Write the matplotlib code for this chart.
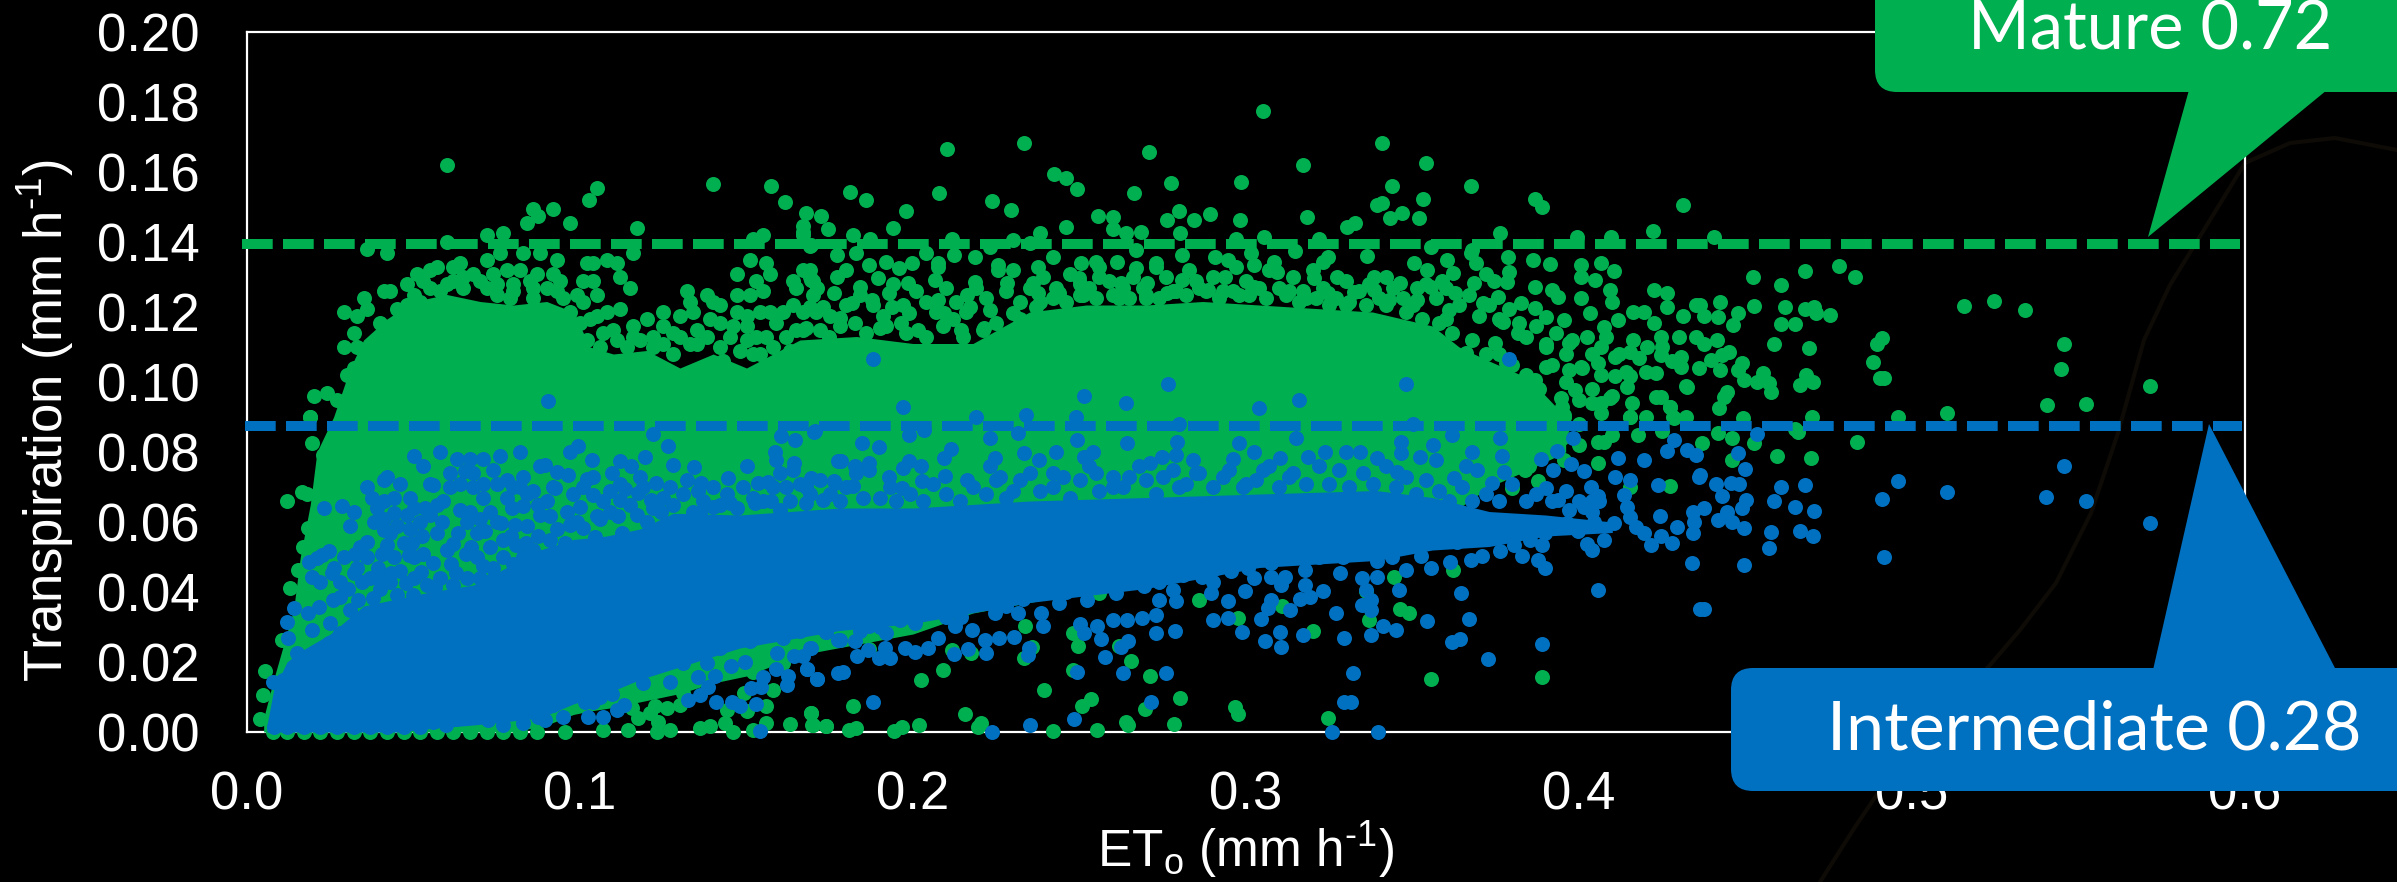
import matplotlib
matplotlib.use("Agg")
import matplotlib.pyplot as plt
from matplotlib.patches import FancyBboxPatch, Polygon

GREEN = "#00B050"
BLUE = "#0070C0"

plt.rcParams["font.family"] = ["Liberation Sans", "DejaVu Sans"]
plt.rcParams["mathtext.fontset"] = "custom"
plt.rcParams["mathtext.rm"] = "Liberation Sans"
plt.rcParams["mathtext.default"] = "regular"

x_ticks = [0.0, 0.1, 0.2, 0.3, 0.4, 0.5, 0.6]
y_ticks = [0.00, 0.02, 0.04, 0.06, 0.08, 0.10, 0.12, 0.14, 0.16, 0.18, 0.20]
mature_threshold = 0.1394
intermediate_threshold = 0.0873
mature_label = "Mature 0.72"
intermediate_label = "Intermediate 0.28"

# The overlapping core of each cloud cannot be read as single dots, so it is
# given as an envelope; readable dots are listed below.
mature_core_et = [.005, .008, .011, .014, .016, .019, .021, .026, .031, .035, .042, .05, .06, .07, .08, .09, .098,
                  .103, .11, .12, .13, .14, .15, .166, .183, .2, .218, .235, .252, .27, .287, .304, .321, .338, .356, .364, .373, .385, .396]
mature_core_top = [.004, .015, .025, .035, .05, .065, .08, .09, .104, .112, .118, .123, .125, .123, .122, .123, .12,
                   .11, .108, .109, .104, .108, .104, .112, .113, .111, .111, .12, .122, .122, .123, .122, .121, .12, .116, .11, .106, .101, .09]
mature_core_bottom = [0, 0, 0, 0, 0, 0, 0, 0, 0, 0, 0, 0, 0, 0, 0, .002, .005,
                      .006, .007, .009, .011, .014, .016, .022, .025, .028, .034, .037, .04, .042, .046, .05, .052, .054, .06, .064, .07, .075, .08]
intermediate_core_et = [.006, .008, .012, .016, .025, .035, .045, .055, .068, .078, .088, .098, .108, .118, .128, .148,
                        .178, .2, .235, .27, .304, .339, .356, .373, .39, .41]
intermediate_core_top = [.002, .012, .02, .023, .028, .036, .038, .04, .042, .047, .052, .055, .056, .058, .0625, .062,
                         .064, .064, .066, .067, .068, .069, .067, .063, .062, .06]
intermediate_core_bottom = [0, 0, 0, 0, 0, 0, 0, .001, .002, .003, .004, .008, .011, .015, .018, .024,
                            .029, .031, .037, .041, .047, .049, .052, .053, .056, .057]

mature_outliers = [(.3051,.1775),(.2101,.1666),(.2332,.1684),(.2709,.1658),(.3409,.1684),(.3170,.1620),(.3540,.1627),(.2423,.1594),
(.2459,.1583),(.2492,.1551),(.2776,.1569),(.2985,.1571),(.2664,.1539),(.3438,.1561),(.3675,.1559),(.1811,.1543),(.1859,.1519),
(.2077,.1541),(.2237,.1517),(.2294,.1492),(.1978,.1488),(.1680,.1483),(.1723,.1474),(.1745,.1437),(.1940,.1440),(.2557,.1475),
(.2601,.1471),(.2601,.1436),(.2639,.1427),(.2685,.1430),(.2459,.1444),(.2764,.1463),(.2799,.1489),(.2844,.1464),(.2892,.1479),
(.2802,.1425),(.2983,.1464),(.3182,.1471),(.3392,.1505),(.3409,.1511),(.3533,.1523),(.3469,.1484),(.3433,.1469),(.3521,.1468),
(.3302,.1442),(.3326,.1453),(.3868,.1522),(.3888,.1501),(.4311,.1506),(.3763,.1425),(.4223,.1432),(.4097,.1413),(.3995,.1413),
(.3787,.1358),(.3863,.1348),(.3914,.1336),(.4007,.1333),(.4066,.1341),(.4104,.1317),(.3364,.1360),(.3504,.1340),(.3544,.1320),
(.3588,.1290),(.3628,.1255),(.3685,.1282),(.3604,.1349),(.3621,.1312),(.3675,.1368),(.3690,.1340),(.3720,.1310),(.3745,.1290),
(.3790,.1315),(.3785,.1285),(.0600,.1620),(.1050,.1555),(.1028,.1520),(.1400,.1567),(.1575,.1560),(.1615,.1515),(.0840,.1455),
(.0770,.1425),(.0875,.1475),(.0860,.1495),(.0920,.1495),(.0970,.1455),(.1170,.1440),(.1670,.1445)]

mature_left_top = [(.036,.138),(.042,.137),(.060,.140),(.072,.142),(.076,.137),(.083,.137),(.088,.137),(.093,.135),(.102,.134),(.104,.134),
(.108,.135),(.111,.134),(.112,.130),(.115,.127),(.101,.129),(.104,.129),(.105,.125),(.099,.125),(.101,.123),(.116,.137),(.043,.126),
(.041,.126),(.048,.128),(.051,.131),(.053,.129),(.055,.132),(.057,.133),(.062,.133),(.064,.134),(.035,.124),(.036,.121),(.029,.120),
(.033,.119),(.032,.114),(.033,.110),(.029,.110),(.032,.104),(.030,.102),(.020,.096),(.024,.097),(.027,.095),(.019,.090),(.062,.129),
(.068,.131),(.072,.135),(.078,.132),(.082,.132),(.087,.131),(.092,.131),(.094,.129),(.074,.131),(.080,.128),(.093,.126),(.086,.127),
(.072,.127),(.065,.127),(.058,.126),(.048,.122),(.052,.123),(.079,.124),(.086,.124),(.075,.125),(.132,.126),(.133,.123),(.138,.125),
(.140,.123),(.142,.122),(.125,.120),(.130,.119),(.134,.120),(.120,.118),(.112,.121),(.108,.120),(.105,.119),(.103,.118),(.116,.116),
(.125,.116),(.128,.114),(.147,.125),(.151,.125),(.155,.126),(.147,.131),(.151,.135),(.156,.134),(.157,.131),(.153,.129),(.165,.127),
(.164,.129),(.167,.132),(.169,.130),(.170,.129),(.167,.142),(.169,.139),(.155,.142),(.152,.141),(.147,.120),(.154,.120),(.157,.120),
(.150,.119),(.139,.118),(.142,.117),(.161,.120),(.164,.122),(.167,.120),(.171,.120),(.159,.117),(.145,.113),(.150,.112),(.156,.113),
(.165,.115),(.154,.108),(.159,.104),(.161,.097),(.167,.099),(.114,.110),(.122,.110),(.135,.111),(.102,.112),(.135,.115),(.148,.109),
(.04,.117),(.045,.121),(.05,.125),(.055,.127),(.06,.128),(.065,.13),(.07,.129),(.075,.128),(.08,.126),(.085,.129),(.09,.127),(.095,.124),
(.097,.12),(.1,.117),(.107,.114),(.11,.115),(.118,.112),(.122,.113),(.13,.113),(.133,.111),(.138,.113),(.142,.11),(.146,.116),(.15,.116),
(.153,.113),(.158,.11),(.162,.113),(.167,.115),(.106,.110),(.111,.112),(.116,.113),(.125,.111),(.128,.108),(.143,.106),(.152,.108),(.163,.109),
(.172,.115),(.178,.116),(.186,.114),(.192,.116),(.198,.114),(.204,.113),(.209,.116),(.215,.113),(.221,.115),(.227,.113),(.232,.118)]

mature_upper_band = [(.1695,.1392),(.1773,.1363),(.1828,.1368),(.1920,.1344),(.1958,.1325),(.1997,.1339),(.2040,.1368),(.2075,.1339),
(.2123,.1363),(.2187,.1358),(.2230,.1387),(.2256,.1334),(.2299,.1320),(.2376,.1330),(.2420,.1358),(.2506,.1339),(.2549,.1344),
(.2614,.1344),(.2670,.1377),(.2670,.1325),(.2730,.1330),(.2807,.1363),(.2906,.1358),(.2945,.1349),(.3015,.1368),(.3023,.1334),
(.3083,.1344),(.3147,.1373),(.3247,.1358),(.3230,.1344),(.1692,.1320),(.1695,.1292),(.1713,.1268),(.1773,.1301),(.1799,.1320),
(.1868,.1334),(.1894,.1296),(.1842,.1272),(.1764,.1253),(.1928,.1253),(.1985,.1282),(.2066,.1292),(.2075,.1330),(.2161,.1249),
(.2187,.1287),(.2256,.1320),(.2282,.1282),(.2359,.1282),(.2376,.1253),(.2437,.1253),(.2497,.1296),(.2558,.1301),(.2626,.1282),
(.2704,.1282),(.2764,.1253),(.2807,.1292),(.2885,.1263),(.2937,.1301),(.3023,.1272),(.3092,.1315),(.3204,.1296),(.3273,.1301),
(.3247,.1253),(.3385,.1301),(.3419,.1301),(.3463,.1284),(.3514,.1268),(.3385,.1263),(.3325,.1257),(.3557,.1272),(.3428,.1234),
(.3514,.1234),(.3609,.1206),(.3713,.1225),(.3756,.1244),(.3764,.1177),(.1690,.1215),(.1730,.1215),(.1782,.1182),(.1816,.1225),
(.1877,.1234),(.1937,.1215),(.1989,.1196),(.2075,.1234),(.2092,.1196),(.2230,.1206),(.2299,.1196),(.1825,.1168),(.1902,.1154),
(.2014,.1149),(.1963,.1168),(.2144,.1149),(.2213,.1154),(.1678,.1154),(.1747,.1130),(.2170,.1215),(.2368,.1215),(.2120,.1180),
(.1820,.1420),(.1871,.1410),(.1670,.1430),(.2118,.1410),(.2382,.1425),(.2299,.1406),(.2351,.1396),(.2971,.1410),(.3054,.1415),
(.3218,.1410),(.3557,.1387),(.3678,.1377),(.2500,.1250),(.2620,.1240),(.2700,.1240),(.2850,.1290),(.2980,.1250),(.3130,.1260),
(.3180,.1240),(.3300,.1220),(.3600,.1180),
(.17,.125),(.175,.119),(.18,.122),(.184,.125),(.188,.122),(.191,.119),(.194,.128),(.197,.122),(.201,.126),(.204,.123),(.207,.12),(.21,.127),
(.213,.123),(.216,.12),(.219,.127),(.222,.124),(.225,.117),(.228,.126),(.232,.123),(.235,.127),(.239,.13),(.243,.127),(.247,.131),(.25,.128),
(.253,.127),(.256,.133),(.259,.129),(.263,.127),(.266,.13),(.269,.127),(.273,.134),(.276,.13),(.279,.126),(.283,.132),(.286,.127),(.29,.13),
(.293,.126),(.297,.133),(.3,.129),(.304,.127),(.307,.132),(.31,.127),(.314,.13),(.317,.126),(.32,.132),(.323,.127),(.327,.124),(.33,.129),
(.334,.126),(.337,.128),(.34,.124),(.344,.127),(.347,.124),(.35,.122),(.354,.128),(.357,.124),(.36,.127),(.364,.122),(.367,.125),(.37,.119),
(.373,.122),(.376,.118),(.379,.121),(.382,.117),(.384,.113),(.387,.116),(.39,.111),(.393,.114),(.396,.108),(.398,.112),(.401,.104),(.404,.108),
(.408,.113),(.412,.108),(.414,.103),(.418,.107),(.42,.103),(.425,.11),(.428,.106),(.432,.099),(.436,.104),(.38,.105),(.384,.102),(.388,.098),
(.392,.105),(.396,.1),(.4,.095),(.404,.098),(.41,.096),(.416,.094),(.42,.09),(.425,.086),(.432,.09),(.38,.096),(.385,.092),(.39,.088),(.395,.093),
(.4,.088),(.41,.085),(.39,.08),(.395,.084),(.385,.083),(.38,.08),(.375,.085),(.37,.09),(.37,.078),(.365,.08),(.375,.075),(.385,.076),
(.238,.123),(.242,.124),(.246,.123),(.251,.125),(.255,.124),(.26,.125),(.265,.124),(.27,.125),(.274,.124),(.278,.126),(.282,.125),(.288,.126),
(.292,.124),(.296,.126),(.301,.125),(.306,.124),(.312,.125),(.316,.123),(.321,.124),(.325,.122),(.331,.123),(.336,.122),(.342,.122),(.348,.12),
(.353,.118),(.358,.117),(.362,.114),(.368,.112),(.372,.108),(.376,.108)]

mature_right = [(.4226,.1263),(.4264,.1253),(.4264,.1215),(.4311,.1189),(.4350,.1220),(.4161,.1201),(.4195,.1201),(.4118,.1177),
(.4092,.1263),(.4100,.1230),(.4032,.1196),(.4006,.1239),(.4049,.1292),(.4006,.1301),(.3919,.1263),(.3937,.1244),(.3868,.1272),
(.3868,.1211),(.3825,.1225),(.3902,.1187),(.3773,.1172),(.4226,.1168),(.4247,.1130),(.4299,.1130),(.4350,.1130),(.4204,.1101),
(.4152,.1087),(.4247,.1077),(.4307,.1072),(.4307,.1044),(.4230,.1025),(.4152,.1016),(.4109,.1016),(.4066,.1020),(.4143,.0985),
(.4230,.0958),(.4247,.0958),(.4325,.0985),(.4273,.0930),(.4282,.0901),(.4152,.0901),(.4092,.0954),(.4066,.0911),(.4040,.0939),
(.3954,.0906),(.3945,.0954),(.3885,.0930),(.3816,.0911),(.3713,.0925),(.3661,.0972),(.3626,.0925),(.3497,.0920),(.3816,.0958),
(.4006,.1044),(.4066,.1101),(.3971,.1111),(.4023,.1130),(.3954,.1177),(.4075,.1158),(.4161,.1120),(.3816,.1139),(.3747,.1111),
(.3661,.1082),(.3902,.1101),(.3902,.1044),(.3868,.1006),(.3971,.1034),(.4057,.1053),(.3989,.0977),(.4109,.1072),(.3782,.1053),
(.3730,.1006),(.3644,.0854),(.3799,.0840),(.4057,.0830),(.4178,.0849),(.4273,.0703),(.3837,.0749),(.3876,.0716),(.4057,.0768),
(.4152,.0701),(.3799,.0697),(.3644,.0711),(.3902,.0801),(.3954,.0778),(.3532,.0735),(.3437,.0768),(.4285,.0897),(.4273,.0930),
(.4152,.0901),(.4066,.0939),(.3954,.0901),(.4075,.0830),(.3713,.0925),(.3644,.0920),(.3816,.0911),(.3780,.0880),(.3950,.0870),
(.3900,.0850),(.4000,.0820),(.3700,.0800),(.3600,.0780),(.3500,.0850),(.3400,.0820),(.3750,.0960),(.3850,.0870)]

mature_far = [(.4406,.1413),(.4524,.1301),(.4607,.1276),(.4679,.1316),(.4782,.1331),(.4830,.1300),(.4422,.1228),(.4527,.1218),(.4618,.1213),
(.4678,.1210),(.4707,.1215),(.4712,.1196),(.4755,.1192),(.4478,.1198),(.4363,.1220),(.4374,.1188),(.4416,.1187),(.4463,.1163),
(.4607,.1167),(.4650,.1167),(.5157,.1216),(.5245,.1231),(.5339,.1207),(.4910,.1127),(.4896,.1110),(.4882,.1058),(.4903,.1012),
(.4916,.1012),(.4586,.1109),(.4690,.1098),(.4415,.1120),(.4376,.1110),(.4450,.1087),(.4430,.1077),(.4396,.1063),(.4423,.1034),
(.4490,.1053),(.4476,.1034),(.4496,.1006),(.4536,.1001),(.4554,.1025),(.4570,.0996),(.4576,.0972),(.4443,.0972),(.4436,.0958),
(.4419,.0927),(.4683,.1020),(.4663,.0991),(.4703,.1001),(.5457,.1108),(.5448,.1038),(.5404,.0934),(.5524,.0937),(.5715,.0990),
(.4958,.0901),(.5105,.0912),(.4700,.0899),(.4491,.0896),(.4650,.0867),(.4659,.0858),(.4416,.0853),(.4836,.0830),(.4459,.0840),
(.4370,.0825),(.4527,.0825),(.4596,.0789),(.4696,.0784),(.4459,.0778)]

mature_lower = [(.2023,.0149),(.2090,.0178),(.1821,.0075),(.1695,.0054),(.1699,.0021),(.1740,.0016),(.1808,.0005),(.1828,.0011),(.1942,.0002),
(.1966,.0013),(.2018,.0019),(.2156,.0051),(.2204,.0027),(.2195,.0014),(.2394,.0119),(.2420,.0003),(.2552,.0006),(.2535,.0095),
(.2508,.0073),(.2639,.0030),(.2647,.0021),(.2697,.0066),(.2801,.0097),(.2783,.0023),(.2713,.0159),(.2656,.0203),(.2480,.0282),
(.2494,.0246),(.2480,.0176),(.2618,.0246),(.2356,.0243),(.2337,.0302),(.2333,.0211),(.2173,.0225),(.2118,.0235),(.1868,.0238),
(.1713,.0278),(.1816,.0292),(.2966,.0071),(.2976,.0052),(.3245,.0040),(.3557,.0151),(.3890,.0156),(.3488,.0340),(.3463,.0351),
(.3368,.0321),(.3359,.0402),(.3445,.0444),(.3621,.0463),(.3201,.0290),(.3109,.0359),(.2976,.0327),(.2859,.0378),(.2566,.0444),
(.2523,.0435),(.2558,.0397),(.0955,.0001),(.107,.0006),(.1145,.0006),(.123,.0001),(.127,.0006),(.136,.0011),(.139,.0016),
(.1435,.0025),(.146,.0001),(.152,.0006),(.1558,.0027),(.1632,.0023),(.1695,.0054),(.1698,.0021),(.174,.0016),(.156,.0073),
(.15,.0059),(.158,.0120),(.1492,.0111),(.152,.0171),(.1355,.0182),(.131,.0111),(.13,.0078),(.126,.0068),(.1225,.0073),(.1235,.0030),
(.1175,.0040),(.113,.0120),(.1155,.0068),(.121,.0054),(.144,.0063),(.155,.0216),(.161,.0197),(.1715,.0282)]

mature_left_edge = [(.0189,.0901),(.0194,.0827),(.0229,.0792),(.0249,.0820),(.0229,.0744),(.0164,.0687),(.0180,.0680),(.0119,.0659),
(.0184,.0582),(.0169,.0530),(.0154,.0463),(.0129,.0411),(.0104,.0263),(.0054,.0175),(.0049,.0106),(.0039,.0037),(.0079,0),
(.012,0),(.017,0),(.022,0),(.027,0),(.032,0),(.037,0),(.042,0),(.047,0),(.052,0),(.057,0),(.062,0),(.067,0),(.072,0),(.077,0),(.082,0),(.087,0)]

intermediate_upper_left = [(.050,.079),(.058,.080),(.053,.076),(.063,.078),(.067,.078),(.071,.078),(.076,.079),(.082,.080),(.074,.075),(.061,.074),
(.0655,.0745),(.068,.074),(.075,.071),(.083,.073),(.080,.070),(.082,.070),(.088,.076),(.055,.071),(.056,.0705),(.061,.070),(.064,.071),
(.068,.070),(.071,.067),(.078,.067),(.036,.070),(.041,.072),(.042,.073),(.046,.071),(.049,.067),(.0375,.067),(.039,.064),(.044,.067),
(.041,.066),(.050,.064),(.0535,.064),(.057,.065),(.059,.066),(.064,.0635),(.067,.063),(.073,.063),(.0795,.064),(.083,.0645),(.0875,.065),
(.0585,.060),(.057,.057),(.044,.0625),(.045,.059),(.049,.058),(.0525,.056),(.047,.054),(.0494,.054),(.038,.060),(.041,.0577),(.043,.057),
(.023,.064),(.0284,.0646),(.032,.063),(.031,.059),(.036,.0544),(.034,.053),(.0324,.051),(.042,.0535),(.0404,.051),(.044,.050),(.0487,.0506),
(.0247,.0516),(.0224,.0506),(.021,.0497),(.0186,.0487),(.0194,.0444),(.0256,.0454),(.032,.0454),(.0344,.043),(.0304,.041),(.0394,.0468),
(.0432,.0454),(.0394,.044),(.0476,.0427),(.0524,.0458),(.0559,.0482),(.0612,.048),(.0627,.0454),(.0709,.0473),(.0736,.0435),(.0564,.0414),
(.0634,.0568),(.0619,.0538),(.0674,.053),(.0659,.051),(.0764,.0597),(.0804,.0592),(.0794,.0559),(.0809,.0535),(.0839,.054),(.0714,.0573),
(.0874,.0559),(.0769,.0501),(.0141,.0354),(.0184,.0339),(.0217,.0358),(.0119,.0313),(.0124,.0268),(.0149,.0225),(.0246,.0254),(.0249,.0311),
(.0279,.0387),(.0259,.0378),(.0379,.0382),(.0449,.0392),(.0499,.0392),(.0334,.0378),(.0309,.0349),(.0194,.0292),(.0279,.0282),(.0079,.0144),
(.0109,.0149),(.0659,.0044),(.0629,.0037),(.0599,.0020),(.0559,.0030),(.0829,.0120),(.0819,.0087),(.0724,.0035),(.0769,.002),(.0829,.0025),
(.0874,.0044),(.008,.0015),(.012,.0015),(.017,.0015),(.022,.0015),(.027,.0015),(.032,.0015),(.037,.0015),(.042,.0015),(.047,.0015),(.052,.0015),
(.022,.043),(.026,.047),(.029,.05),(.028,.043),(.033,.047),(.036,.05),(.037,.044),(.04,.041),(.043,.043),(.046,.046),(.05,.05),(.053,.051),
(.05,.044),(.054,.042),(.058,.044),(.06,.052),(.062,.042),(.066,.044),(.069,.05),(.07,.044),(.074,.047),(.073,.053),(.077,.055),(.08,.048),
(.083,.05),(.086,.046),(.089,.05),(.086,.052),(.069,.057),(.066,.06),(.07,.061),(.075,.06),(.084,.059),(.088,.062),(.09,.066),(.092,.07),
(.086,.069),(.071,.071),(.078,.072),(.084,.068),(.052,.06),(.055,.062),(.048,.062),(.041,.061)]

intermediate_upper_mid = [(.097,.080),(.0993,.0816),(.1035,.0778),(.112,.0775),(.1153,.0759),(.1095,.074),(.1195,.0787),(.1218,.0851),(.1263,.0818),
(.1278,.0763),(.1342,.0756),(.1362,.0711),(.1353,.069),(.1443,.0725),(.15,.076),(.1535,.0711),(.1565,.0714),(.1585,.0801),(.1588,.0778),
(.1645,.0835),(.1605,.0846),(.1705,.0861),(.1642,.0768),(.1640,.0750),(.162,.0701),(.1695,.0725),(.1765,.0711),(.1775,.0773),(.145,.0654),
(.1525,.0654),(.1135,.0694),(.1175,.0682),(.119,.0701),(.1228,.0711),(.1213,.0663),(.112,.0663),(.1243,.0630),(.117,.0620),(.1115,.0616),
(.107,.066),(.104,.0678),(.102,.0723),(.0965,.0735),(.0925,.0697),(.0895,.0763),(.093,.0744),(.091,.0616),(.1,.0644),(.105,.0616),(.097,.0592),
(.101,.0582),(.091,.055),(.1045,.0558),(.0955,.054),(.1125,.0568),(.1183,.0554),(.0915,.0501),(.102,.0501),(.136,.0625),(.1398,.0642),
(.1575,.0659),(.16,.0635),(.168,.0654),(.173,.0663),(.1704,.0858),(.1847,.0827),(.1899,.0813),(.1785,.0775),(.1825,.0761),(.1868,.0768),
(.1989,.0849),(.2032,.0863),(.2232,.084),(.2316,.0854),(.2492,.0833),(.2644,.0825),(.2794,.083),(.298,.0825),(.3023,.0801),(.3149,.0839),
(.2842,.0778),(.2790,.0792),(.2747,.0787),(.2713,.0768),(.2540,.0801),(.2514,.0785),(.2428,.0801),(.2377,.0778),(.2333,.0797),(.2247,.0782),
(.223,.0759),(.2114,.0808),(.2092,.0782),(.2023,.0759),(.1989,.0773),(.1971,.0754),(.1928,.0730),(.1868,.0749),(.1821,.0703),(.1764,.0716),
(.2097,.0732),(.2028,.0716),(.1968,.0697),(.2161,.0720),(.1680,.0700),(.2250,.0720),(.2350,.0740),(.2450,.0730),(.2550,.0740),(.2650,.0730),
(.2750,.0730),(.2850,.0740),(.2950,.0750),(.3050,.0750),(.3130,.0730),(.2300,.0690),(.2420,.0700),(.2600,.0700),(.2800,.0700),(.3000,.0710),
(.093,.058),(.096,.063),(.099,.06),(.098,.068),(.101,.07),(.104,.073),(.106,.061),(.109,.063),(.109,.069),(.112,.071),(.115,.065),(.118,.073),
(.12,.06),(.122,.064),(.125,.067),(.127,.07),(.128,.065),(.131,.068),(.132,.072),(.134,.063),(.137,.066),(.14,.07),(.142,.065),(.144,.068),
(.147,.064),(.149,.07),(.152,.067),(.155,.066),(.158,.07),(.16,.074),(.163,.066),(.166,.071),(.169,.068),(.172,.072),(.175,.068),(.178,.066),
(.18,.07),(.183,.074),(.185,.067),(.19,.067),(.193,.07),(.195,.066),(.199,.068),(.203,.066),(.206,.071),(.21,.068),(.214,.066),(.218,.07),
(.222,.068),(.226,.073),(.228,.067),(.232,.072),(.238,.069),(.242,.074),(.247,.067),(.25,.072),(.253,.076),(.256,.069),(.26,.073),(.263,.07),
(.268,.076),(.27,.072),(.273,.068),(.278,.075),(.282,.071),(.286,.074),(.29,.07),(.293,.073),(.296,.078),(.299,.07),(.303,.072),(.307,.076),
(.31,.07),(.314,.074),(.318,.071),(.322,.076),(.325,.071),(.328,.075),(.331,.07),(.335,.074),(.338,.071),(.342,.076),(.345,.07),(.348,.073),
(.351,.068),(.354,.072),(.358,.069),(.361,.066),(.365,.07),(.368,.066),(.372,.068),(.376,.066),(.38,.071),(.384,.066),(.387,.068),(.392,.066),
(.396,.069),(.4,.066),(.404,.063)]

intermediate_right = [(.3466,.083),(.3466,.0797),(.3563,.0820),(.3678,.0801),(.3764,.0841),(.3768,.0789),(.3933,.0803),(.3885,.0779),(.3983,.0839),
(.4118,.0782),(.4195,.0776),(.4285,.0833),(.4264,.0803),(.4325,.0806),(.435,.0792),(.3975,.0765),(.3776,.0744),(.3923,.0749),(.3661,.0759),
(.357,.0776),(.3523,.0787),(.3299,.0801),(.3342,.0801),(.3238,.0801),(.3394,.0782),(.3187,.0787),(.3101,.0782),(.4359,.0730),(.4037,.0701),
(.4014,.0747),(.4152,.0720),(.4109,.0730),(.4238,.0706),(.3902,.0697),(.3739,.0711),(.3695,.0749),(.3626,.0725),(.3454,.0744),(.4135,.0678),
(.404,.0659),(.4143,.0644),(.4057,.0673),(.3937,.0663),(.3971,.0635),(.4014,.0644),(.4060,.0659),(.4154,.0614),(.417,.0587),(.4195,.057),
(.4242,.0616),(.4295,.0587),(.4342,.0630),(.4345,.0601),(.4342,.0570),(.4247,.0559),(.4216,.0535),(.4278,.0541),(.4338,.0482),(.3963,.0597),
(.3997,.0573),(.4045,.0601),(.4105,.0597),(.4075,.0549),(.4023,.0538),(.404,.0521),(.3899,.0568),(.389,.0535),(.3854,.0549),(.3876,.0492),
(.3897,.0468),(.383,.0502),(.3804,.0535),(.3764,.0516),(.3744,.0559),(.3709,.0502),(.3675,.0492),(.3687,.0554),(.3635,.0544),(.3614,.0487),
(.36,.0578),(.3557,.0468),(.3526,.0503),(.348,.0462),(.3459,.0406),(.3437,.0501),(.3394,.0490),(.3394,.0442),(.3347,.0440),(.3359,.0406),
(.3342,.0511),(.3290,.0501),(.3282,.0454),(.3230,.0403),(.3178,.0421),(.3192,.0387),(.3161,.0381),(.3132,.0349),(.3118,.0444),(.3075,.0444),
(.3106,.0421),(.3023,.0440),(.2997,.0403),(.2954,.0459),(.2945,.0373),(.3075,.0378),(.3066,.0354),(.3045,.0322),(.2945,.0325),(.2902,.0321),
(.2894,.0397),(.2902,.0430),(.2790,.0373),(.2739,.0378),(.2989,.0285),(.3101,.0287),(.3057,.0259),(.3104,.0244),(.3171,.0278),(.3294,.0268),
(.3270,.0340),(.3347,.0362),(.3376,.0378),(.3376,.0349),(.3411,.0302),(.3376,.0278),(.3449,.0292),(.3545,.0316),(.3647,.0397),(.3670,.0323),
(.3644,.0265),(.3618,.0256),(.3890,.0252),(.3726,.0208),(.4057,.0406),(.4364,.0351),(.3320,.0170),(.3295,.0087),(.3316,.0087),(.3259,0),(.3395,0)]

intermediate_lower = [(.09,.014),(.098,.014),(.1025,.0158),(.1085,.0154),(.1095,.0108),(.106,.0101),(.1015,.0087),(.104,.0087),(.1133,.0078),(.111,.0063),
(.107,.0044),(.1023,.0044),(.095,.0044),(.092,.0078),(.089,.0101),(.0895,.0035),(.127,.0144),(.119,.014),(.131,.0197),(.138,.0197),(.1405,.0161),
(.1355,.0157),(.1385,.0128),(.136,.0106),(.1325,.0092),(.1407,.0087),(.1455,.0087),(.148,.0073),(.153,.0080),(.1515,.0125),(.1545,.0128),(.155,.0158),
(.1588,.0179),(.1625,.0160),(.1622,.0135),(.1683,.0179),(.1712,.0151),(.1642,.0218),(.167,.0216),(.1695,.0239),(.1592,.0225),(.174,.0287),(.1775,.0263),
(.1775,.0168),(.154,.0002),(.1453,.019),(.1495,.0201),(.2787,.0290),(.2730,.0282),(.2730,.0335),(.2687,.0325),(.2644,.0321),(.2601,.0321),(.2554,.0302),
(.2502,.0309),(.2514,.0282),(.2566,.0265),(.2390,.0303),(.2302,.0271),(.2257,.0270),(.2216,.0264),(.2218,.0225),(.2166,.0238),(.2123,.0223),(.2178,.0292),
(.2126,.0302),(.2075,.0268),(.2045,.0240),(.2006,.0230),(.1975,.0240),(.1920,.0282),(.1916,.0240),(.1932,.0211),(.1899,.0211),(.1833,.0216),(.1864,.0235),
(.1825,.0259),(.1782,.0263),(.1739,.0287),(.1692,.0240),(.1682,.0180),(.1713,.0151),(.1790,.0171),(.1880,.0087),(.2345,.0221),(.2347,.0240),(.2492,.0171),
(.2578,.0214),(.2630,.0170),(.2647,.0259),(.2626,.0244),(.2759,.0168),(.2714,.0087),(.2483,.0037),(.2352,.0019),(.2237,0),(.3075,.0482),(.3178,.0463),
(.3006,.0468),(.2868,.0444),(.2782,.0406),(.2695,.0416),(.2609,.0397),(.2523,.0378),(.2437,.0368),(.2385,.0340),(.2316,.0340),(.2247,.0340),(.2144,.0330),
(.2006,.0311),(.1868,.0302),(.1764,.0321),(.101,.012),(.106,.014),(.112,.017),(.116,.018),(.122,.019),(.126,.021),(.131,.023),(.136,.024),(.142,.024),
(.146,.027),(.151,.026),(.156,.028),(.161,.027),(.166,.029),(.172,.03),(.178,.032),(.184,.029),(.19,.03),(.196,.032),(.204,.034),(.21,.033),(.216,.036),
(.222,.037),(.228,.036),(.233,.038),(.241,.04),(.246,.04),(.256,.042),(.263,.043),(.274,.043),(.281,.045),(.291,.047),(.296,.049),(.312,.05),(.322,.05),(.332,.053)]

intermediate_far = [(.4536,.0851),(.4476,.0797),(.4499,.0752),(.5456,.0760),(.4958,.0716),(.5105,.0687),(.4910,.0666),(.5403,.0671),(.5524,.0660),(.5715,.0596),
(.4916,.0501),(.4607,.0701),(.4678,.0705),(.4586,.0660),(.4650,.0642),(.4706,.0631),(.4410,.0708),(.4456,.0711),(.4480,.0709),(.4430,.0673),(.4503,.0663),
(.4490,.0640),(.4376,.0640),(.4443,.0630),(.4416,.0606),(.4459,.0599),(.4496,.0582),(.4576,.0572),(.4664,.0574),(.4702,.0561),(.4572,.0527),(.4494,.0478),
(.4376,.0352),(.4363,.0735),(.0905,.0945),(.1880,.1065),(.2765,.0995),(.2515,.0960),(.2340,.0905),(.2640,.0940),(.3040,.0925),(.3160,.0950),(.3480,.0995),
(.3790,.1065),(.1970,.0930),(.2190,.0900),(.2490,.0900),(.2800,.0880),(.3500,.0880),(.3620,.0850)]

mature_groups = [mature_outliers, mature_left_top, mature_upper_band, mature_right, mature_far, mature_lower, mature_left_edge]
intermediate_groups = [intermediate_upper_left, intermediate_upper_mid, intermediate_right, intermediate_lower, intermediate_far]
faint_curve = [(1820,882),(1855,827),(1878,793),(1930,728),(1984,672),(2020,630),(2056,583),(2091,513),(2118,433),(2144,340),(2170,285),(2202,233),(2245,163),(2290,143),(2335,138),(2397,150)]

W, H = 2397, 882
fig = plt.figure(figsize=(W / 100, H / 100), dpi=100, facecolor="black")

back = fig.add_axes([0, 0, 1, 1], zorder=0)
back.set_xlim(0, W); back.set_ylim(H, 0); back.axis("off")
back.plot([p[0] for p in faint_curve], [p[1] for p in faint_curve], color="#0e0b06", lw=3)

left, right, top, bottom = 247, 2245, 32, 732
ax = fig.add_axes([left / W, 1 - bottom / H, (right - left) / W, (bottom - top) / H], zorder=1)
ax.patch.set_visible(False)
ax.set_xlim(0, 0.6); ax.set_ylim(0, 0.2)
ax.set_xticks(x_ticks); ax.set_xticklabels([f"{v:.1f}" for v in x_ticks])
ax.set_yticks(y_ticks); ax.set_yticklabels([f"{v:.2f}" for v in y_ticks])
ax.tick_params(length=0, colors="white", labelsize=38)
ax.tick_params(axis="y", pad=34)
ax.tick_params(axis="x", pad=28)
for s in ax.spines.values():
    s.set_color("white"); s.set_linewidth(1.6)
ax.set_xlabel(r"ET$_{\text{o}}$ (mm h$^{\text{-1}}$)", color="white", fontsize=37, labelpad=-1)
ax.set_ylabel(r"Transpiration (mm h$^{\text{-1}}$)", color="white", fontsize=38)
ax.yaxis.set_label_coords((76 - left) / (right - left), (bottom - 421) / (bottom - top))

SIZE = (15 * 0.72) ** 2
def scatter(groups, colour, z):
    xs = [p[0] for g in groups for p in g]
    ys = [p[1] for g in groups for p in g]
    ax.scatter(xs, ys, s=SIZE, color=colour, linewidths=0, zorder=z, clip_on=False)

ax.fill_between(mature_core_et, mature_core_bottom, mature_core_top, color=GREEN, lw=0, zorder=3)
scatter(mature_groups, GREEN, 3.1)
ax.fill_between(intermediate_core_et, intermediate_core_bottom, intermediate_core_top, color=BLUE, lw=0, zorder=3.2)
scatter(intermediate_groups, BLUE, 3.3)

dash = (0, (3.07, 1.03))
ax.plot([-0.0015, 0.5985], [mature_threshold] * 2, color=GREEN, lw=7.2, linestyle=dash, dash_capstyle="butt", zorder=4, clip_on=False)
ax.plot([-0.0006, 0.5991], [intermediate_threshold] * 2, color=BLUE, lw=7.2, linestyle=dash, dash_capstyle="butt", zorder=4.1, clip_on=False)

over = fig.add_axes([0, 0, 1, 1], zorder=2)
over.set_xlim(0, W); over.set_ylim(H, 0); over.axis("off")
over.add_patch(FancyBboxPatch((1875, -80), 720, 172, boxstyle="round,pad=0,rounding_size=22", fc=GREEN, ec="none"))
over.add_patch(Polygon([(2189, 90), (2148, 237), (2327, 90)], closed=True, fc=GREEN, ec="none"))
over.add_patch(FancyBboxPatch((1731, 668), 800, 123, boxstyle="round,pad=0,rounding_size=22", fc=BLUE, ec="none"))
over.add_patch(Polygon([(2153, 670), (2209, 424), (2336, 670)], closed=True, fc=BLUE, ec="none"))
callout_font = dict(color="white", family=["Lato", "Liberation Sans"], fontweight="normal", va="baseline", ha="left")
over.text(1968, 49, mature_label, fontsize=48, **callout_font)
over.text(1827, 749, intermediate_label, fontsize=49, **callout_font)

fig.savefig("out.png", dpi=100, facecolor="black")
